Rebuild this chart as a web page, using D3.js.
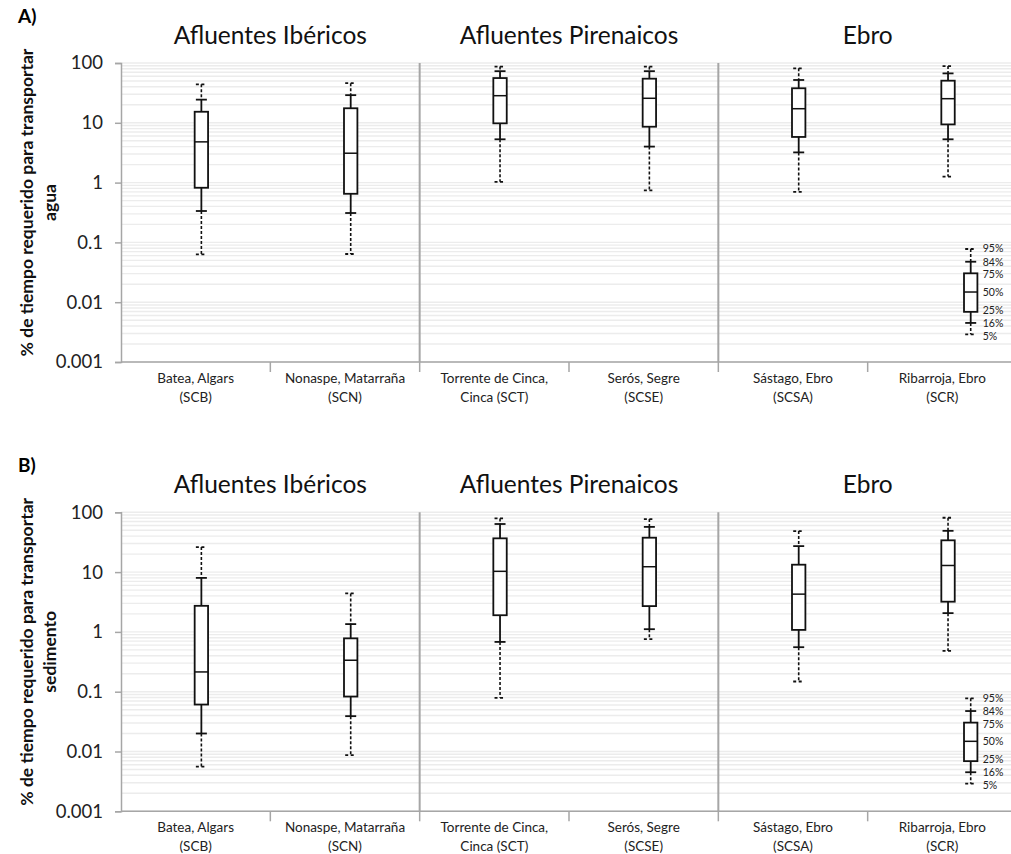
<!DOCTYPE html>
<html>
<head>
<meta charset="utf-8">
<script src="https://cdn.jsdelivr.net/npm/d3@7"></script>
<style>
  html, body { margin: 0; padding: 0; background: #fff; }
  svg { display: block; font-family: Lato, "Noto Sans", sans-serif; }
</style>
</head>
<body>
<svg id="chart" width="1011" height="854"></svg>
<script>
// river groups, two stations each
const groups = ["Afluentes Ibéricos", "Afluentes Pirenaicos", "Ebro"]
const stations = ["SCB", "SCN", "SCT", "SCSE", "SCSA", "SCR"]
const stationLabels = [
  ["Batea, Algars", "(SCB)"],
  ["Nonaspe, Matarraña", "(SCN)"],
  ["Torrente de Cinca,", "Cinca (SCT)"],
  ["Serós, Segre", "(SCSE)"],
  ["Sástago, Ebro", "(SCSA)"],
  ["Ribarroja, Ebro", "(SCR)"],
]
// percentiles: 5, 16, 25, 50, 75, 84, 95
const percentiles = ["5%", "16%", "25%", "50%", "75%", "84%", "95%"]
const aguaValues = [
  [0.063, 0.335, 0.82, 4.8, 15.3, 24.4, 44],
  [0.064, 0.31, 0.65, 3.1, 17.5, 29, 46],
  [1.03, 5.3, 9.8, 28.4, 56, 73, 87],
  [0.74, 4.0, 8.6, 25.7, 54.7, 73, 87],
  [0.70, 3.2, 5.8, 17.2, 37.8, 52, 81.5],
  [1.26, 5.3, 9.4, 25.3, 50.6, 67, 89],
]
const sedimentoValues = [
  [0.0056, 0.020, 0.061, 0.214, 2.73, 8.0, 26.2],
  [0.0087, 0.039, 0.083, 0.336, 0.78, 1.35, 4.4],
  [0.079, 0.68, 1.9, 10.3, 36.7, 63.7, 79],
  [0.755, 1.11, 2.7, 12.3, 37.6, 57, 77],
  [0.148, 0.555, 1.08, 4.28, 13.3, 27.2, 48.6],
  [0.48, 2.06, 3.2, 12.9, 34, 49, 81],
]
// example box explaining the percentiles
const legendValues = [0.0029, 0.0045, 0.0069, 0.0148, 0.0304, 0.0475, 0.0776]
const yTicks = [0.001, 0.01, 0.1, 1, 10, 100]
const yTickLabels = ["0.001", "0.01", "0.1", "1", "10", "100"]

const svg = d3.select("#chart")

const LEFT = 121
const RIGHT = 1017
const PLOT_H = 299
const GRID = "#ececec"
const AXIS = "#a6a6a6"

const x = d3.scaleBand().domain(stations).range([LEFT, RIGHT])
const bw = x.bandwidth()
const boxShift = 5.7
const boxHalf = 6.7
const capHalf = 5.5
// small vertical nudges so the crowded percentile labels don't collide
const pctNudge = [1.4, 0, -1.7, 0, 1.2, 0, -0.3]

function drawPanel(top, letter, title, values) {
  const g = svg.append("g")
  const y = d3.scaleLog().domain([0.001, 100]).range([top + PLOT_H, top])

  // minor log gridlines
  const gridVals = []
  for (let e = -3; e < 2; e++) for (let m = 1; m <= 9; m++) gridVals.push(m * Math.pow(10, e))
  gridVals.push(100)
  g.append("g").selectAll("line").data(gridVals).enter().append("line")
    .attr("x1", LEFT).attr("x2", RIGHT)
    .attr("y1", d => y(d)).attr("y2", d => y(d))
    .attr("stroke", GRID).attr("stroke-width", 1.4)

  // y axis
  const yAxis = d3.axisLeft(y).tickValues(yTicks).tickFormat((d, i) => yTickLabels[i]).tickSize(6).tickPadding(12)
  const ya = g.append("g").attr("transform", `translate(${LEFT},0)`).call(yAxis)
  ya.select(".domain").attr("stroke", AXIS).attr("stroke-width", 1.5)
  ya.selectAll(".tick line").attr("stroke", AXIS).attr("stroke-width", 1.5)
  ya.selectAll(".tick text").attr("font-size", 18.5).attr("fill", "#222").attr("font-family", "Lato, sans-serif")

  // x axis with ticks between categories
  const xa = g.append("g").attr("transform", `translate(0,${top + PLOT_H})`)
  xa.append("line").attr("x1", LEFT).attr("x2", RIGHT).attr("stroke", AXIS).attr("stroke-width", 1.5)
  xa.selectAll("line.tk").data(stations.slice(1)).enter().append("line").attr("class", "tk")
    .attr("x1", d => x(d)).attr("x2", d => x(d)).attr("y1", 0).attr("y2", 10)
    .attr("stroke", AXIS).attr("stroke-width", 1.5)
  const lbl = xa.selectAll("text").data(stations).enter().append("text")
    .attr("text-anchor", "middle").attr("font-size", 13.5).attr("fill", "#222")
  lbl.append("tspan").attr("x", d => x(d) + bw / 2).attr("y", 21).text((d, i) => stationLabels[i][0])
  lbl.append("tspan").attr("x", d => x(d) + bw / 2).attr("y", 40).text((d, i) => stationLabels[i][1])

  // group separators
  g.selectAll("line.sep").data([stations[2], stations[4]]).enter().append("line").attr("class", "sep")
    .attr("x1", d => x(d)).attr("x2", d => x(d)).attr("y1", top).attr("y2", top + PLOT_H)
    .attr("stroke", AXIS).attr("stroke-width", 2)

  // group titles
  g.selectAll("text.grp").data(groups).enter().append("text").attr("class", "grp")
    .attr("x", (d, i) => x(stations[i * 2]) + bw)
    .attr("y", top - 19)
    .attr("text-anchor", "middle").attr("font-size", 24.5).attr("fill", "#111")
    .text(d => d)

  // panel letter
  g.append("text").attr("x", 18).attr("y", top - 40).attr("font-size", 19).attr("font-weight", "bold")
    .attr("fill", "#000").text(letter + ")")

  // y title
  const yt = g.append("text").attr("transform", `translate(33,${top + PLOT_H / 2 - 10}) rotate(-90)`)
    .attr("text-anchor", "middle").attr("font-size", 17.5).attr("font-weight", "bold").attr("fill", "#111")
  yt.append("tspan").attr("x", 0).attr("y", 0).text("% de tiempo requerido para transportar")
  yt.append("tspan").attr("x", 0).attr("y", 23).text(title)

  // boxes
  const boxes = stations.map((s, i) => ({ cx: x(s) + bw / 2 + boxShift, v: values[i] }))
  boxes.push({ cx: x(stations[5]) + bw * 0.69, v: legendValues })
  boxes.forEach(b => drawBox(g, y, b))

  // percentile labels beside the example box
  const lb = boxes[boxes.length - 1]
  g.selectAll("text.pct").data(percentiles).enter().append("text").attr("class", "pct")
    .attr("x", lb.cx + 12)
    .attr("y", (d, i) => y(legendValues[i]) + 3.8 + pctNudge[i])
    .attr("font-size", 10.5).attr("fill", "#222").text(d => d)
}

function drawBox(g, y, b) {
  const [p5, p16, p25, p50, p75, p84, p95] = b.v
  const bg = g.append("g").attr("stroke", "#111").attr("fill", "none")
  // dashed outer whiskers
  bg.append("line").attr("x1", b.cx).attr("x2", b.cx).attr("y1", y(p95)).attr("y2", y(p84))
    .attr("stroke-width", 1.6).attr("stroke-dasharray", "3,2")
  bg.append("line").attr("x1", b.cx).attr("x2", b.cx).attr("y1", y(p16)).attr("y2", y(p5))
    .attr("stroke-width", 1.6).attr("stroke-dasharray", "3,2")
  // solid inner whiskers
  bg.append("line").attr("x1", b.cx).attr("x2", b.cx).attr("y1", y(p84)).attr("y2", y(p75)).attr("stroke-width", 1.8)
  bg.append("line").attr("x1", b.cx).attr("x2", b.cx).attr("y1", y(p25)).attr("y2", y(p16)).attr("stroke-width", 1.8)
  // caps
  ;[p16, p84].forEach(v => bg.append("line").attr("x1", b.cx - capHalf).attr("x2", b.cx + capHalf)
    .attr("y1", y(v)).attr("y2", y(v)).attr("stroke-width", 1.8))
  ;[p5, p95].forEach(v => bg.append("line").attr("x1", b.cx - capHalf).attr("x2", b.cx + capHalf)
    .attr("y1", y(v)).attr("y2", y(v)).attr("stroke-width", 1.8).attr("stroke-dasharray", "3,2.5"))
  // box and median
  bg.append("rect").attr("x", b.cx - boxHalf).attr("y", y(p75)).attr("width", boxHalf * 2)
    .attr("height", y(p25) - y(p75)).attr("fill", "#fff").attr("stroke-width", 1.8)
  bg.append("line").attr("x1", b.cx - boxHalf).attr("x2", b.cx + boxHalf)
    .attr("y1", y(p50)).attr("y2", y(p50)).attr("stroke-width", 1.5)
}

drawPanel(63, "A", "agua", aguaValues)
drawPanel(512.3, "B", "sedimento", sedimentoValues)
</script>
</body>
</html>
